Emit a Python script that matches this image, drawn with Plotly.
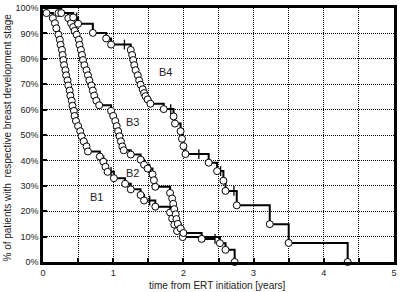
import numpy as np
import plotly.graph_objects as go

# ---- data ----
b1_t = [0.05, 0.14, 0.17, 0.19, 0.22, 0.24, 0.25, 0.27, 0.28, 0.29, 0.30, 0.32, 0.33, 0.35,
        0.36, 0.38, 0.39, 0.41, 0.42, 0.44, 0.45, 0.47, 0.50, 0.53, 0.55, 0.58, 0.62, 0.64,
        0.81, 0.86, 0.89, 0.92, 1.01, 1.17, 1.25, 1.39, 1.44, 1.60, 1.81, 1.84, 1.87, 1.91,
        1.99, 2.52, 2.60, 2.73]
b1_s = [98, 96, 94, 92, 89.5, 87.5, 85.5, 83.5, 81.5, 79.5, 77.5, 75.5, 73.5, 71.5,
        69.5, 67.5, 65.5, 63.5, 61.5, 59.5, 57.5, 55.5, 53.5, 51.5, 49.5, 47.5, 45.5, 43.5,
        41.5, 39.5, 37.5, 35.5, 33.0, 30.8, 28.6, 26.4, 24.2, 21.8, 19.5, 17.1, 14.7, 12.2,
        9.8, 7.4, 4.8, 0]
b1_cens = [0.97, 1.52]
b1_end = 2.73

b3_t = [0.22, 0.36, 0.40, 0.43, 0.45, 0.48, 0.51, 0.52, 0.54, 0.555, 0.57, 0.59, 0.62, 0.64,
        0.66, 0.69, 0.71, 0.73, 0.76, 0.80, 0.97, 1.00, 1.03, 1.05, 1.07, 1.09, 1.11, 1.13,
        1.15, 1.25, 1.39, 1.44, 1.49, 1.56, 1.58, 1.60, 1.81, 1.84, 1.855, 1.87, 1.89, 1.90,
        1.92, 1.96, 2.00, 2.26]
b3_s = [98, 96, 94, 92.5, 91, 89.5, 87.5, 85.5, 83.5, 81.5, 79.5, 77.5, 75.5, 73.5,
        71.5, 69.5, 67.5, 65.5, 63.5, 61.7, 59.5, 57.5, 55.5, 53.5, 51.5, 49.5, 47.5, 45.5,
        44.0, 42.3, 40.3, 38.3, 36.8, 34.5, 32.2, 29.6, 27.2, 25.0, 22.9, 20.8, 18.8, 16.9,
        15.0, 13.2, 11.4, 9.1]
b3_cens = [1.52, 2.45]
b3_end = 2.45

b4_t = [0.26, 0.43, 0.50, 0.71, 0.90, 0.97, 1.25, 1.27, 1.285, 1.30, 1.32, 1.35, 1.37, 1.39,
        1.42, 1.44, 1.46, 1.49, 1.53, 1.72, 1.86, 1.88, 1.96, 1.98, 2.00, 2.03, 2.36, 2.48,
        2.57, 2.60, 2.76, 3.23, 3.50, 4.34]
b4_s = [98, 96.3, 93.8, 90.2, 88.0, 85.6, 83.5, 81.5, 79.5, 77.5, 75.5, 73.5, 71.5, 69.8,
        68.0, 66.5, 65.3, 64.0, 62.3, 60.2, 57.3, 54.5, 51.5, 48.5, 45.6, 42.5, 39.1, 35.8,
        32.0, 28.0, 22.3, 14.9, 7.5, 0]
b4_cens = [0.48, 1.16, 1.82, 2.22, 2.53, 2.72]
b4_end = 4.34

labels = ["B1", "B2", "B3", "B4"]
label_t = [0.76, 1.28, 1.28, 1.74]
label_s = [25.5, 35.2, 55.0, 75.0]

x_ticks = [0, 1, 2, 3, 4, 5]
y_ticks = list(range(0, 101, 10))

FONT = "Arial, 'Liberation Sans', sans-serif"

fig = go.Figure()


def surv_at(ts, ss, t):
    idx = np.searchsorted(np.array(ts), t, side="right") - 1
    return 100.0 if idx < 0 else ss[idx]


curves = [("B1", b1_t, b1_s, b1_cens, b1_end),
          ("B3", b3_t, b3_s, b3_cens, b3_end),
          ("B4", b4_t, b4_s, b4_cens, b4_end)]

for name, ts, ss, cens, end in curves:
    lx = [0] + list(ts)
    ly = [100] + list(ss)
    if end > ts[-1]:
        lx.append(end)
        ly.append(ss[-1])
    fig.add_trace(go.Scatter(x=lx, y=ly, mode="lines", line=dict(color="black", width=2, shape="hv"),
                             name=name, showlegend=False, hoverinfo="skip", cliponaxis=False))

for name, ts, ss, cens, end in curves:
    cy = [surv_at(ts, ss, c) for c in cens]
    fig.add_trace(go.Scatter(x=cens, y=cy, mode="markers",
                             marker=dict(symbol="line-ns", size=7, line=dict(color="black", width=1.3)),
                             showlegend=False, hoverinfo="skip", cliponaxis=False))

for name, ts, ss, cens, end in curves:
    fig.add_trace(go.Scatter(x=ts, y=ss, mode="markers",
                             marker=dict(symbol="circle", size=7, color="white",
                                         line=dict(color="black", width=1)),
                             showlegend=False, name=name, cliponaxis=False))

for lab, t, s in zip(labels, label_t, label_s):
    fig.add_annotation(x=t, y=s, text=lab, showarrow=False,
                       font=dict(family=FONT, size=11, color="#222"))

fig.add_annotation(xref="paper", yref="paper", x=0, y=0.49, xshift=-35,
                   text="% of patients with  respective breast development stage",
                   textangle=-90, showarrow=False, xanchor="center", yanchor="middle",
                   font=dict(family=FONT, size=10, color="#222"))
fig.add_annotation(xref="paper", yref="paper", x=0.497, y=0, yshift=-23,
                   text="time from ERT initiation [years]", showarrow=False,
                   xanchor="center", yanchor="middle",
                   font=dict(family=FONT, size=10, color="#222"))

fig.update_xaxes(range=[0, 5], tickvals=x_ticks, ticktext=[str(v) for v in x_ticks],
                 showgrid=True, gridcolor="black", gridwidth=1, griddash="1px,1px",
                 ticks="inside", ticklen=4, tickwidth=1.5, tickcolor="black",
                 showline=True, linecolor="black", linewidth=2.5, mirror=True,
                 zeroline=False, tickfont=dict(family=FONT, size=9, color="#222"),
                 minor=dict(dtick=0.5, tick0=0, showgrid=True, gridcolor="black", gridwidth=1,
                            griddash="1px,1px", ticks="inside", ticklen=4, tickcolor="black"))
fig.update_yaxes(range=[0, 100], tickvals=y_ticks, ticktext=[f"{v}%" for v in y_ticks],
                 showgrid=True, gridcolor="black", gridwidth=1, griddash="1px,1px",
                 ticks="inside", ticklen=4, tickwidth=1.5, tickcolor="black",
                 showline=True, linecolor="black", linewidth=2.5, mirror=True,
                 zeroline=False, tickfont=dict(family=FONT, size=9, color="#222"))

fig.update_layout(width=400, height=292, margin=dict(l=43, r=3, t=5, b=30),
                  paper_bgcolor="white", plot_bgcolor="white", showlegend=False,
                  hovermode=False)

fig.write_html("out.html", config={"displayModeBar": False},
               post_script="document.body.style.margin='0';document.body.style.padding='0';"
                           "document.documentElement.style.overflow='hidden';")
